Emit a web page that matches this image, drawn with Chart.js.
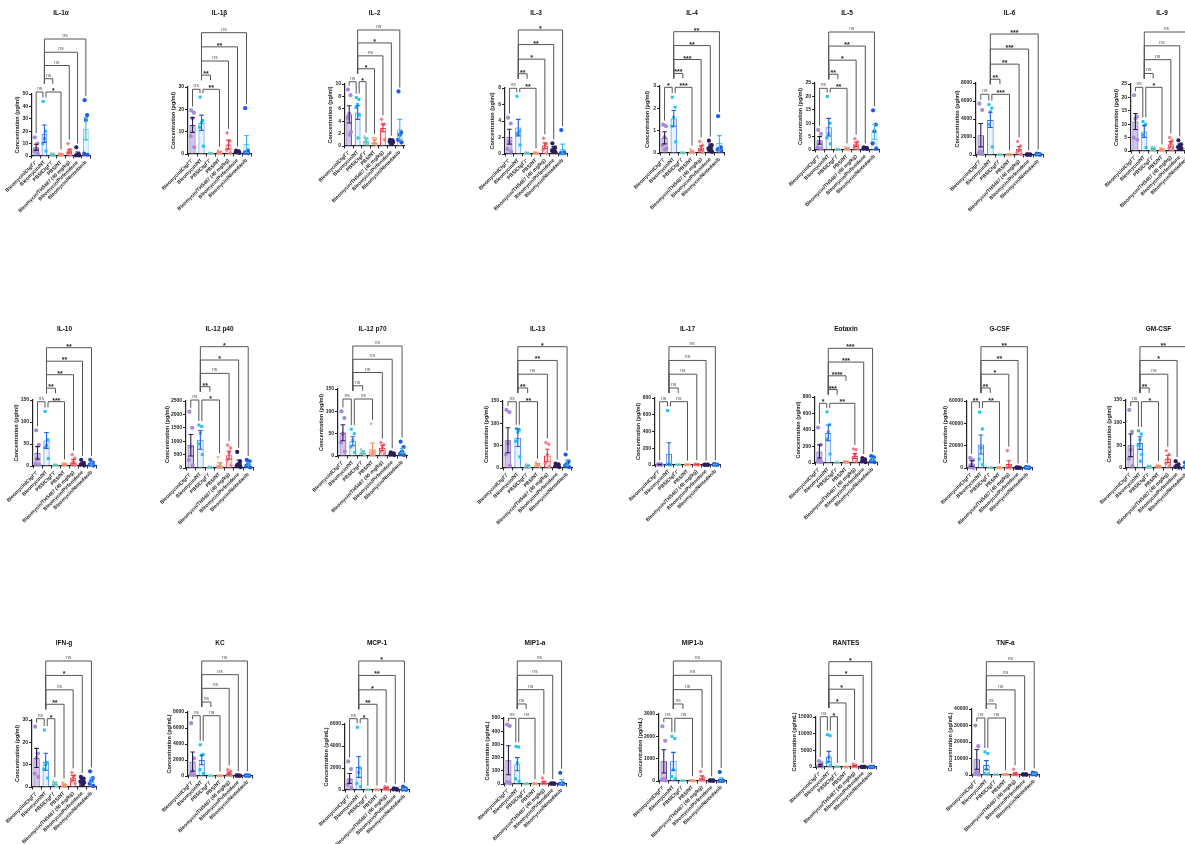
<!DOCTYPE html>
<html>
<head>
<meta charset="utf-8">
<script src="https://cdn.jsdelivr.net/npm/chart.js@4.4.0/dist/chart.umd.min.js"></script>
<style>
  html, body { margin: 0; padding: 0; background: #fff; overflow: hidden; }
  #wrap { position: relative; width: 1185px; height: 844px; overflow: hidden; background: #fff; }
  #wrap canvas { position: absolute; }
</style>
</head>
<body>
<div id="wrap"></div>
<script>
// treatment groups, same order in every panel
const groups = ['Bleomycin/Ctgf⁻/⁻', 'Bleomycin/NT', 'PBS/Ctgf⁻/⁻', 'PBS/NT',
  'Bleomycin/TH5487 (40 mg/kg)', 'Bleomycin/Pirfenidone', 'Bleomycin/Nintedanib'];

const analytes = ['IL-1α', 'IL-1β', 'IL-2', 'IL-3', 'IL-4', 'IL-5', 'IL-6', 'IL-9',
  'IL-10', 'IL-12 p40', 'IL-12 p70', 'IL-13', 'IL-17', 'Eotaxin', 'G-CSF', 'GM-CSF',
  'IFN-g', 'KC', 'MCP-1', 'MIP1-a', 'MIP1-b', 'RANTES', 'TNF-a'];

const units = ['pg/ml', 'pg/ml', 'pg/ml', 'pg/ml', 'pg/ml', 'pg/ml', 'pg/ml', 'pg/ml',
  'pg/ml', 'pg/ml', 'pg/ml', 'pg/ml', 'pg/ml', 'pg/ml', 'pg/ml', 'pg/ml',
  'pg/ml', 'pg/mL', 'pg/mL', 'pg/mL', 'pg/mL', 'pg/mL', 'pg/mL'];

const yMax  = [50, 30, 10, 8, 3, 25, 8000, 25, 150, 2500, 150, 150, 800, 800, 60000, 150, 30, 8000, 6000, 500, 3000, 15000, 40000];
const yStep = [10, 10, 2, 2, 1, 5, 2000, 5, 50, 500, 50, 50, 200, 200, 20000, 50, 10, 2000, 2000, 100, 1000, 5000, 10000];

// group means
const means = [
  [7, 18, 1, 1.5, 4, 2, 22],
  [13, 14, 0.3, 0.8, 4.2, 1, 4.5],
  [5.1, 5.4, 0.9, 0.7, 2.9, 0.8, 2.7],
  [2.1, 3.2, 0.1, 0.1, 1.0, 0.7, 0.6],
  [0.68, 1.55, 0.01, 0.05, 0.22, 0.3, 0.45],
  [3.6, 8.5, 0.2, 0.5, 2.1, 0.7, 6.8],
  [2200, 3900, 20, 50, 700, 50, 80],
  [11, 7.3, 0.8, 0.5, 2.5, 2, 2],
  [30, 58, 2, 4, 10, 5, 5],
  [850, 1050, 20, 120, 480, 200, 150],
  [52, 33, 8, 15, 18, 5, 12],
  [62, 68, 5, 8, 28, 6, 12],
  [5, 135, 3, 3, 5, 3, 5],
  [140, 365, 5, 15, 85, 35, 45],
  [4000, 21000, 200, 300, 3500, 300, 400],
  [50, 55, 3, 4, 20, 5, 5],
  [13, 11.3, 1.5, 0.8, 4, 3.2, 3],
  [1800, 2000, 30, 50, 350, 50, 50],
  [1050, 2100, 20, 30, 150, 80, 100],
  [180, 150, 2, 3, 12, 3, 15],
  [880, 880, 10, 20, 150, 20, 60],
  [500, 3100, 30, 50, 300, 20, 20],
  [9500, 6000, 200, 300, 800, 300, 800]
];

// standard error of each mean
const sems = [
  [2.5, 7, 0.3, 0.4, 1.5, 1.2, 9],
  [3.3, 3.4, 0.1, 0.3, 2, 0.3, 3.8],
  [1.4, 1.1, 0.3, 0.3, 0.6, 0.1, 1.6],
  [0.9, 1.0, 0.03, 0.03, 0.35, 0.2, 0.6],
  [0.27, 0.35, 0.01, 0.03, 0.1, 0.1, 0.33],
  [1.4, 3.3, 0.05, 0.15, 0.8, 0.15, 2.8],
  [1300, 850, 5, 15, 250, 15, 30],
  [3, 2.2, 0.2, 0.15, 1, 0.6, 0.5],
  [14, 18, 0.5, 1, 5, 2, 2.5],
  [400, 350, 6, 80, 150, 100, 50],
  [18, 10, 3, 14, 6, 1.5, 5],
  [28, 20, 1.2, 2, 14, 1.5, 6],
  [2, 130, 1, 1, 2, 1, 2],
  [80, 95, 1.5, 3, 30, 10, 15],
  [2500, 8500, 60, 100, 3000, 80, 150],
  [25, 14, 0.8, 1, 8, 3, 2],
  [4.3, 3.8, 0.4, 0.5, 1.2, 0.5, 1],
  [1200, 600, 8, 12, 150, 12, 12],
  [450, 950, 5, 8, 60, 25, 40],
  [110, 50, 0.5, 1, 8, 1, 18],
  [520, 400, 3, 5, 80, 6, 80],
  [300, 1600, 8, 12, 150, 5, 5],
  [6000, 2700, 50, 80, 600, 80, 300]
];

// individual animals per group
const points = [
  [[15, 10, 6, 4, 2], [44, 20, 14, 10, 4], [2, 1.5, 1, 0.5, 0.3], [2, 1.5, 1.2, 1, 0.5], [10, 5, 4, 2, 1], [7, 1.5, 1, 0.5, 0.5], [45, 33, 29, 2, 1]],
  [[19.5, 18.5, 16, 8, 3], [25.5, 15, 14, 12, 3.5], [0.4, 0.3, 0.3, 0.2, 0.2], [1.5, 1, 0.8, 0.5, 0.3], [9.5, 5.8, 4, 2, 0.5], [1.5, 1.2, 1, 0.8, 0.5], [20.5, 1.5, 1, 0.5, 0.3]],
  [[9.1, 8.2, 5.2, 4.5, 2.3, 1.8], [7.8, 7.5, 6.7, 6.2, 5, 1.3], [1.5, 1.2, 0.9, 0.6, 0.3], [1.3, 1.2, 0.8, 0.4, 0.2], [4.3, 3.5, 3.5, 2.5, 1], [1, 0.9, 0.8, 0.7, 0.6], [8.8, 2.2, 1.8, 1, 0.6]],
  [[4.4, 3.7, 1.5, 0.6, 0.3], [7, 2.8, 2.5, 2.5, 1.1], [0.2, 0.1, 0.1, 0.1, 0.05], [0.2, 0.15, 0.1, 0.1, 0.05], [1.9, 1.2, 1, 0.5, 0.1], [1.3, 0.8, 0.6, 0.4, 0.2], [2.9, 0.2, 0.1, 0.1, 0.1]],
  [[1.27, 1.2, 0.7, 0.35, 0.2, 0.15], [2.5, 2.05, 1.6, 1.2, 0.5], [0.02, 0.01, 0, 0, 0], [0.15, 0.08, 0.05, 0.02, 0], [0.52, 0.35, 0.2, 0.1, 0.05], [0.55, 0.35, 0.3, 0.2, 0.05], [1.65, 0.25, 0.2, 0.15, 0.1]],
  [[7.5, 6, 3, 1, 0.5], [20, 10, 6, 4.5, 2.3], [0.3, 0.2, 0.2, 0.1, 0.1], [1, 0.6, 0.5, 0.3, 0.2], [4.2, 3, 2, 1, 0.5], [1, 0.8, 0.7, 0.5, 0.4], [14.8, 9.5, 7, 2.5, 0.5]],
  [[5700, 5000, 400, 200, 100], [5600, 5200, 4800, 3400, 900], [30, 20, 20, 10, 10], [80, 60, 50, 30, 20], [1500, 1000, 600, 300, 100], [80, 60, 50, 40, 20], [150, 100, 80, 50, 20]],
  [[20.8, 12.8, 12, 5, 4.2], [11, 10, 9.5, 6, 1.3], [1.5, 1.2, 0.8, 0.4, 0.2], [1, 0.6, 0.5, 0.3, 0.2], [5, 4, 3, 1, 0.5], [4, 2.5, 2, 1.5, 0.8], [3, 2, 1.5, 1, 0.5]],
  [[81, 48, 15, 5, 3], [124, 60, 47, 42, 17], [3, 2, 2, 1, 1], [6, 5, 4, 3, 2], [26, 18, 10, 5, 2], [14, 7, 5, 3, 1], [14, 8, 5, 3, 1]],
  [[2100, 1500, 800, 300, 100], [1600, 1550, 1300, 900, 500], [40, 30, 20, 10, 5], [400, 150, 60, 30, 10], [850, 750, 550, 300, 100], [600, 250, 150, 80, 30], [300, 250, 150, 80, 20]],
  [[100, 85, 50, 30, 10], [60, 50, 35, 20, 8], [15, 10, 8, 5, 2], [72, 10, 5, 3, 2], [30, 25, 18, 10, 5], [8, 6, 5, 3, 2], [32, 20, 10, 5, 2]],
  [[130, 125, 55, 30, 5], [88, 85, 80, 60, 25], [8, 6, 5, 3, 2], [12, 9, 8, 5, 3], [57, 53, 30, 10, 3], [10, 8, 6, 4, 2], [30, 15, 10, 5, 2]],
  [[10, 8, 5, 3, 1], [650, 10, 8, 5, 3], [5, 4, 3, 2, 1], [5, 4, 3, 2, 1], [10, 6, 5, 3, 1], [5, 4, 3, 2, 1], [10, 6, 5, 3, 1]],
  [[430, 220, 50, 20, 10], [620, 465, 375, 290, 110], [8, 6, 5, 3, 2], [20, 18, 15, 12, 8], [170, 160, 100, 60, 20], [60, 45, 35, 20, 10], [85, 70, 40, 20, 10]],
  [[9000, 7000, 3000, 500, 200], [50000, 35000, 18000, 8000, 3000], [400, 300, 200, 100, 50], [600, 400, 300, 200, 100], [15500, 1500, 500, 300, 200], [500, 400, 300, 200, 100], [800, 500, 300, 200, 100]],
  [[128, 80, 40, 20, 5], [82, 75, 62, 50, 30, 15], [5, 4, 3, 2, 1], [6, 5, 4, 3, 2], [38, 30, 20, 10, 5], [15, 8, 4, 2, 1], [12, 6, 4, 2, 1]],
  [[27, 15, 13, 6, 4.5], [25.5, 11, 10, 8, 4], [2.5, 2, 1.5, 1, 0.5], [2, 1, 0.5, 0.3, 0.2], [6.5, 5, 4, 2.5, 1.5], [4.5, 3.8, 3.2, 2.5, 2], [7, 4, 3, 1.5, 0.5]],
  [[6600, 2200, 600, 200, 100], [3900, 2700, 2600, 800, 300], [50, 40, 30, 20, 10], [80, 60, 50, 40, 20], [800, 600, 300, 200, 100], [80, 60, 50, 40, 20], [80, 60, 50, 40, 20]],
  [[2600, 1900, 900, 500, 200], [5700, 2000, 1600, 600, 300], [30, 25, 20, 15, 10], [50, 40, 30, 20, 10], [300, 250, 150, 80, 30], [150, 100, 80, 50, 20], [300, 150, 80, 40, 20]],
  [[450, 440, 15, 10, 5], [285, 280, 160, 40, 20], [3, 2, 2, 1, 1], [5, 4, 3, 2, 1], [45, 10, 5, 3, 2], [5, 4, 3, 2, 1], [85, 5, 3, 2, 1]],
  [[2450, 1800, 100, 50, 20], [2000, 1900, 500, 200, 100], [15, 12, 10, 8, 5], [30, 25, 20, 15, 10], [420, 150, 80, 50, 20], [30, 25, 20, 15, 10], [400, 20, 10, 5, 5]],
  [[1800, 1200, 600, 200, 100], [9700, 9400, 3000, 1500, 500], [50, 40, 30, 20, 10], [80, 60, 50, 40, 20], [900, 500, 300, 100, 50], [30, 25, 20, 15, 10], [30, 25, 20, 15, 10]],
  [[30000, 17500, 2000, 500, 200], [14000, 13000, 3500, 1000, 500], [300, 250, 200, 150, 100], [400, 350, 300, 250, 200], [3500, 800, 300, 200, 100], [400, 350, 300, 250, 200], [1500, 1000, 700, 300, 100]]
];

// multiple comparisons: [group a, group b, bracket tier]
const comparisonSets = {
  A: [[0, 1, 1], [1, 3, 1], [1, 2, 2], [1, 4, 3], [1, 5, 4], [1, 6, 5]],
  B: [[0, 1, 1], [1, 2, 1], [1, 3, 2], [1, 4, 3], [1, 5, 4], [1, 6, 5]],
  C: [[0, 1, 1], [1, 4, 1], [1, 2, 2], [1, 3, 3], [1, 5, 4], [1, 6, 5]]
};
const comparisonSet = ['A', 'A', 'B', 'A', 'A', 'A', 'A', 'A',
  'A', 'A', 'A', 'A', 'A', 'C', 'A', 'A',
  'B', 'A', 'B', 'A', 'A', 'B', 'A'];
const significance = [
  ['ns', '*', 'ns', 'ns', 'ns', 'ns'],
  ['ns', '**', '**', 'ns', '**', 'ns'],
  ['ns', '*', '*', 'ns', '*', 'ns'],
  ['ns', '**', '**', '*', '**', '*'],
  ['*', '***', '***', '***', '**', '**'],
  ['ns', '**', '**', '*', '**', 'ns'],
  ['ns', '***', '**', '**', '***', '***'],
  ['ns', '*', 'ns', 'ns', 'ns', 'ns'],
  ['ns', '***', '**', '**', '**', '**'],
  ['ns', '*', '**', 'ns', '*', '*'],
  ['ns', 'ns', 'ns', 'ns', 'ns', 'ns'],
  ['ns', '**', '**', 'ns', '**', '*'],
  ['ns', 'ns', 'ns', 'ns', 'ns', 'ns'],
  ['*', '**', '***', '****', '***', '***'],
  ['**', '**', '**', '*', '**', '**'],
  ['ns', '*', '**', 'ns', '*', '**'],
  ['ns', '*', '**', 'ns', '*', 'ns'],
  ['ns', 'ns', 'ns', 'ns', 'ns', 'ns'],
  ['ns', '*', '**', '*', '**', '*'],
  ['ns', 'ns', 'ns', 'ns', 'ns', 'ns'],
  ['ns', 'ns', 'ns', 'ns', 'ns', 'ns'],
  ['ns', '*', '*', '*', '*', '*'],
  ['ns', 'ns', 'ns', 'ns', 'ns', 'ns']
];

// panel placement: [axis x, top tick y, baseline y, plot width, title y, first bracket y, top bracket y]
const panelBox = [
  [32, 94, 156, 59, 13, 92, 39],
  [188, 86.7, 153.7, 63.5, 13, 89.3, 32.7],
  [344.5, 83.7, 145.7, 60, 13, 81.7, 30],
  [504.5, 88.3, 154, 62.5, 13, 88.3, 30],
  [660, 86, 153, 64.5, 13, 87.3, 31.7],
  [815, 83.3, 150, 65, 13, 88.3, 32],
  [976, 82.7, 154.7, 68, 13, 94.3, 34],
  [1131, 84, 150.7, 62.5, 13, 87.3, 32],
  [33, 400, 465.7, 64, 329, 401.7, 347.7],
  [186, 401, 467.7, 68, 329, 400, 346.7],
  [338, 389, 456, 70, 329, 399, 346],
  [503, 401, 468, 70, 329, 401.7, 346.7],
  [655, 398, 465, 66, 329, 401.7, 346.7],
  [815, 397.3, 463.3, 63, 329, 403.3, 348.3],
  [967, 401, 468, 66, 329, 401.7, 346.7],
  [1126, 400, 468, 66, 329, 401.7, 346.7],
  [32, 720, 786.7, 65, 643, 718.7, 661],
  [188, 712, 776, 65, 643, 715.7, 661],
  [345, 724.3, 790, 65, 643, 718.7, 661],
  [504, 718.3, 784, 63, 643, 718.3, 661],
  [659, 714.3, 781.3, 68, 643, 718.3, 661],
  [816, 717, 767, 61, 643, 716.7, 661.7],
  [972, 709, 775, 68, 643, 718, 661.7]
];

const barFill  = ['#d3c5ee', '#e4f3fd', '#8ed6d4', '#f8bba0', '#fde6e8', '#2b1e5e', '#e3f6fd'];
const barEdge  = ['#5b3d96', '#3273ea', '#6ec6c4', '#f29470', '#e6343f', '#2b1e5e', '#5dcbf2'];
const errColor = ['#2a1a56', '#1f5fe2', '#5fb9b7', '#ef8a62', '#e6343f', '#2b1e5e', '#3cb5ee'];
const dotColor = ['#a78bd8', '#1fc2f6', '#7fd1cf', '#f6a686', '#f47d8a', '#2b1e5e', '#1f5ce4'];
const dotShape = ['circle', 'rect', 'triangle', 'triangle', 'rectRot', 'circle', 'circle'];
const jitter = [-0.15, 0.15, 0, -0.2, 0.2, 0.05];

Chart.defaults.font.family = '"Liberation Sans", Arial, sans-serif';
Chart.defaults.color = '#222';

// mean ± SEM whiskers on top of the bars
const errorBars = {
  id: 'errorBars',
  afterDatasetsDraw(chart, args, o) {
    const { ctx, scales: { x, y } } = chart;
    ctx.save();
    ctx.lineWidth = 1.1;
    o.mean.forEach((m, g) => {
      const px = x.getPixelForValue(g);
      const hi = y.getPixelForValue(m + o.sem[g]);
      const lo = y.getPixelForValue(Math.max(0, m - o.sem[g]));
      ctx.strokeStyle = errColor[g];
      ctx.beginPath();
      ctx.moveTo(px, lo); ctx.lineTo(px, hi);
      ctx.moveTo(px - 2.3, hi); ctx.lineTo(px + 2.3, hi);
      ctx.moveTo(px - 2.3, lo); ctx.lineTo(px + 2.3, lo);
      ctx.stroke();
    });
    ctx.restore();
  }
};

// significance brackets stacked above the plot
const brackets = {
  id: 'brackets',
  afterDraw(chart, args, o) {
    const { ctx, scales: { x, y } } = chart;
    const dy = (o.y1 - o.y5) / 4;
    const tierY = t => o.y1 - (t - 1) * dy - o.cTop;
    const dataTop = g => y.getPixelForValue(Math.max(o.mean[g] + o.sem[g], ...o.pts[g])) - 4;
    ctx.save();
    ctx.strokeStyle = '#555';
    ctx.lineWidth = 1;
    o.pairs.forEach(([i, j, t], n) => {
      const ly = tierY(t);
      let xi = x.getPixelForValue(i), xj = x.getPixelForValue(j);
      let bi, bj;
      if (t === 1) {
        if (i === 1) xi += 1.5;
        if (j === 1) xj -= 1.5;
        bi = Math.max(dataTop(i), ly + 3);
        bj = Math.max(dataTop(j), ly + 3);
      } else {
        bi = tierY(2) + 5;
        const blocked = o.pairs.some(([a, b, s]) => s < t && a < j && j < b);
        bj = blocked ? ly + 5 : Math.max(dataTop(j), ly + 3);
      }
      ctx.beginPath();
      ctx.moveTo(xi, bi); ctx.lineTo(xi, ly); ctx.lineTo(xj, ly); ctx.lineTo(xj, bj);
      ctx.stroke();
      const label = o.labels[n];
      const ns = label === 'ns';
      ctx.font = ns ? '5px "Liberation Sans", Arial' : 'bold 7px "Liberation Sans", Arial';
      ctx.fillStyle = ns ? '#555' : '#222';
      ctx.textAlign = 'center';
      ctx.textBaseline = 'alphabetic';
      ctx.fillText(label, (xi + xj) / 2, ns ? ly - 2 : ly + 1);
    });
    ctx.restore();
  }
};

function axisWidth(max) {
  return [0, 16, 18, 20, 22, 25][String(max).length];
}

const wrap = document.getElementById('wrap');
analytes.forEach((name, k) => {
  const [L, top, bottom, W, tY, y1, y5] = panelBox[k];
  const yW = axisWidth(yMax[k]);
  const padL = 46, padR = 3, xH = 72, tSize = 6.5;
  const cTop = Math.round(tY - 12);
  const cLeft = Math.round(L) - yW - padL;
  const cw = padL + yW + Math.round(W) + padR;
  const ch = Math.round(bottom) - cTop + xH;
  const tPadTop = tY - cTop - tSize * 0.6;
  const tPadBottom = Math.round(top) - cTop - tPadTop - tSize * 1.2;

  const canvas = document.createElement('canvas');
  canvas.width = cw; canvas.height = ch;
  canvas.style.left = cLeft + 'px';
  canvas.style.top = cTop + 'px';
  canvas.style.width = cw + 'px';
  canvas.style.height = ch + 'px';
  wrap.appendChild(canvas);

  const dots = points[k].map((vals, g) => ({
    type: 'scatter',
    data: vals.map((v, i) => ({ x: g + jitter[i], y: v })),
    pointStyle: dotShape[g],
    rotation: g === 3 ? 180 : 0,
    pointRadius: 2.1,
    backgroundColor: dotColor[g],
    borderColor: dotColor[g],
    borderWidth: 0,
    clip: false,
    order: 1
  }));

  new Chart(canvas, {
    type: 'bar',
    data: {
      datasets: [{
        data: means[k].map((m, g) => ({ x: g, y: m })),
        backgroundColor: barFill,
        borderColor: barEdge,
        borderWidth: 1,
        barPercentage: 0.68,
        categoryPercentage: 1,
        order: 2
      }, ...dots]
    },
    options: {
      responsive: false,
      animation: false,
      devicePixelRatio: 1,
      layout: { padding: { left: padL, right: padR, top: 0, bottom: 0 } },
      plugins: {
        legend: { display: false },
        tooltip: { enabled: false },
        title: {
          display: true, text: name, fullSize: false, color: '#111',
          font: { size: tSize, weight: 'bold' },
          padding: { top: tPadTop, bottom: tPadBottom }
        },
        errorBars: { mean: means[k], sem: sems[k] },
        brackets: {
          pairs: comparisonSets[comparisonSet[k]], labels: significance[k],
          mean: means[k], sem: sems[k], pts: points[k], y1: y1, y5: y5, cTop: cTop
        }
      },
      scales: {
        x: {
          type: 'linear', min: -0.5, max: 6.5, offset: false,
          afterBuildTicks: s => { s.ticks = groups.map((_, g) => ({ value: g })); },
          ticks: {
            autoSkip: false, minRotation: 45, maxRotation: 45, padding: 1, color: '#222',
            font: { size: 5, weight: 'bold' },
            callback: v => groups[v]
          },
          grid: { drawOnChartArea: false, tickLength: 2.5, color: '#222' },
          border: { color: '#222', width: 1.2 },
          afterFit: s => { s.height = xH; s.paddingLeft = 0; s.paddingRight = 0; }
        },
        y: {
          min: 0, max: yMax[k],
          ticks: { stepSize: yStep[k], padding: 1, color: '#222', font: { size: 5, weight: 'bold' }, callback: v => String(v) },
          grid: { drawOnChartArea: false, tickLength: 3, color: '#222' },
          border: { color: '#222', width: 1.2 },
          title: { display: true, text: 'Concentration (' + units[k] + ')', color: '#222', font: { size: 5.5, weight: 'bold' }, padding: 0 },
          afterFit: s => { s.width = yW; s.paddingTop = 0; s.paddingBottom = 0; }
        }
      }
    },
    plugins: [errorBars, brackets]
  });
});
</script>
</body>
</html>
